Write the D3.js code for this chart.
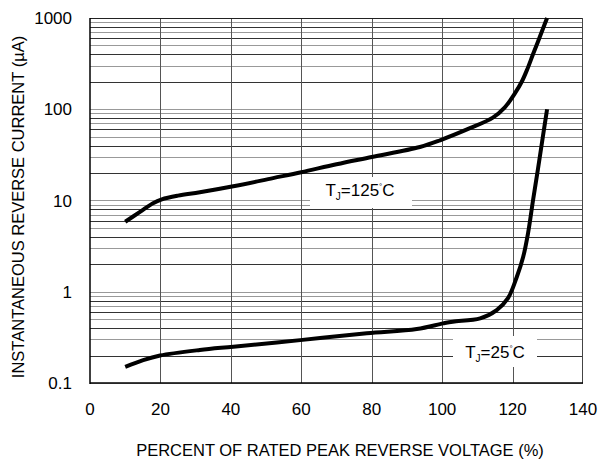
<!DOCTYPE html>
<html>
<head>
<meta charset="utf-8">
<script src="https://cdn.jsdelivr.net/npm/d3@7"></script>
<style>
  body { margin: 0; background: #fff; }
  svg { font-family: "Liberation Sans", Arial, sans-serif; }
</style>
</head>
<body>
<div id="chart"></div>
<script>
// percent of rated peak reverse voltage
const xTicks = [0, 20, 40, 60, 80, 100, 120, 140];
const yTicks = [0.1, 1, 10, 100, 1000];
const yTickLabels = ["0.1", "1", "10", "100", "1000"];

// TJ = 125 C
const hotX = [10, 14.2, 17.9, 20.4, 25, 31.2, 40.7, 52, 60, 70, 80, 93.7, 99.4, 107.9, 114.4, 117.8, 120.7, 122.6, 124.1, 125.8, 127.8, 129.8];
const hotY = [5.85, 7.5, 9.35, 10.3, 11.3, 12.3, 14.3, 17.6, 20.4, 25, 30, 38.6, 45.7, 62, 81, 105, 150, 200, 270, 400, 630, 1000];

// TJ = 25 C
const coldX = [10, 15.1, 19.9, 31.2, 40.7, 59.7, 78.6, 92.8, 100.3, 103, 110.8, 115.5, 118.7, 121.2, 123, 124.4, 125.8, 127.2, 128.6, 129.8];
const coldY = [0.15, 0.178, 0.2, 0.23, 0.25, 0.295, 0.35, 0.39, 0.45, 0.47, 0.51, 0.63, 0.85, 1.45, 2.4, 4.4, 10, 22, 50, 100];

const width = 599, height = 461;
const plotLeft = 90, plotRight = 583, plotTop = 18, plotBottom = 383;

const svg = d3.select("#chart").append("svg")
    .attr("width", width)
    .attr("height", height);

const x = d3.scaleLinear().domain([0, 140]).range([plotLeft, plotRight]);
const y = d3.scaleLog().domain([0.1, 1000]).range([plotBottom, plotTop]);

// horizontal grid, every 1..9 of each decade
const minor = [];
for (let d = 0.1; d < 1000; d *= 10) {
    for (let k = 1; k <= 9; k++) minor.push({ v: +(k * d).toPrecision(3), k: k });
}
svg.append("g")
    .selectAll("line")
    .data(minor)
    .join("line")
    .attr("x1", plotLeft)
    .attr("x2", plotRight)
    .attr("y1", (d) => Math.round(y(d.v)) + 0.5)
    .attr("y2", (d) => Math.round(y(d.v)) + 0.5)
    .attr("stroke", (d) => (d.k % 2 === 0 ? "#333" : "#999"))
    .attr("stroke-width", 1);

// vertical grid
svg.append("g")
    .selectAll("line")
    .data(xTicks.slice(1, -1))
    .join("line")
    .attr("x1", (d) => Math.round(x(d)) + 0.5)
    .attr("x2", (d) => Math.round(x(d)) + 0.5)
    .attr("y1", plotTop)
    .attr("y2", plotBottom)
    .attr("stroke", "#555")
    .attr("stroke-width", 1);

// frame
svg.append("line").attr("x1", plotLeft).attr("x2", plotRight).attr("y1", plotTop + 0.5).attr("y2", plotTop + 0.5)
    .attr("stroke", "#222").attr("stroke-width", 1.2);
svg.append("line").attr("x1", plotRight - 0.5).attr("x2", plotRight - 0.5).attr("y1", plotTop).attr("y2", plotBottom)
    .attr("stroke", "#444").attr("stroke-width", 1);
svg.append("line").attr("x1", plotLeft).attr("x2", plotLeft).attr("y1", plotTop).attr("y2", plotBottom + 1)
    .attr("stroke", "#000").attr("stroke-width", 1.5);
svg.append("line").attr("x1", plotLeft).attr("x2", plotRight).attr("y1", plotBottom).attr("y2", plotBottom)
    .attr("stroke", "#000").attr("stroke-width", 1.5);

// white boxes behind the curve labels
svg.append("rect").attr("x", 310).attr("y", 177).attr("width", 102).attr("height", 31).attr("fill", "#fff");
svg.append("rect").attr("x", 453).attr("y", 336).attr("width", 84).attr("height", 31).attr("fill", "#fff");

// curves
const line = d3.line()
    .x((d) => x(d[0]))
    .y((d) => y(d[1]))
    .curve(d3.curveCatmullRom.alpha(0.5));

svg.append("path")
    .datum(d3.zip(hotX, hotY))
    .attr("d", line)
    .attr("fill", "none")
    .attr("stroke", "#000")
    .attr("stroke-width", 4)
    .attr("stroke-linecap", "butt");

svg.append("path")
    .datum(d3.zip(coldX, coldY))
    .attr("d", line)
    .attr("fill", "none")
    .attr("stroke", "#000")
    .attr("stroke-width", 4)
    .attr("stroke-linecap", "butt");

// curve labels
function tjLabel(cx, cy, temp) {
    const t = svg.append("text")
        .attr("x", cx)
        .attr("y", cy)
        .attr("text-anchor", "middle")
        .attr("font-size", 17)
        .attr("fill", "#000");
    t.append("tspan").text("T");
    t.append("tspan").attr("font-size", 10).attr("dy", 4).text("J");
    t.append("tspan").attr("dy", -4).text("=" + temp);
    t.append("tspan").attr("font-size", 8).attr("dy", -7).text("°");
    t.append("tspan").attr("dy", 7).text("C");
}
tjLabel(360, 196, "125");
tjLabel(495, 358, "25");

// tick labels
svg.append("g")
    .selectAll("text")
    .data(xTicks)
    .join("text")
    .attr("x", (d) => x(d))
    .attr("y", 415)
    .attr("text-anchor", "middle")
    .attr("font-size", 17)
    .text((d) => d);

svg.append("g")
    .selectAll("text")
    .data(yTicks)
    .join("text")
    .attr("x", 72)
    .attr("y", (d) => y(d) + 6)
    .attr("text-anchor", "end")
    .attr("font-size", 17)
    .text((d, i) => yTickLabels[i]);

// axis titles
svg.append("text")
    .attr("x", 340)
    .attr("y", 456)
    .attr("text-anchor", "middle")
    .attr("font-size", 16.5)
    .text("PERCENT OF RATED PEAK REVERSE VOLTAGE (%)");

svg.append("text")
    .attr("transform", "translate(24,207) rotate(-90)")
    .attr("text-anchor", "middle")
    .attr("font-size", 16.5)
    .text("INSTANTANEOUS REVERSE CURRENT (µA)");
</script>
</body>
</html>
